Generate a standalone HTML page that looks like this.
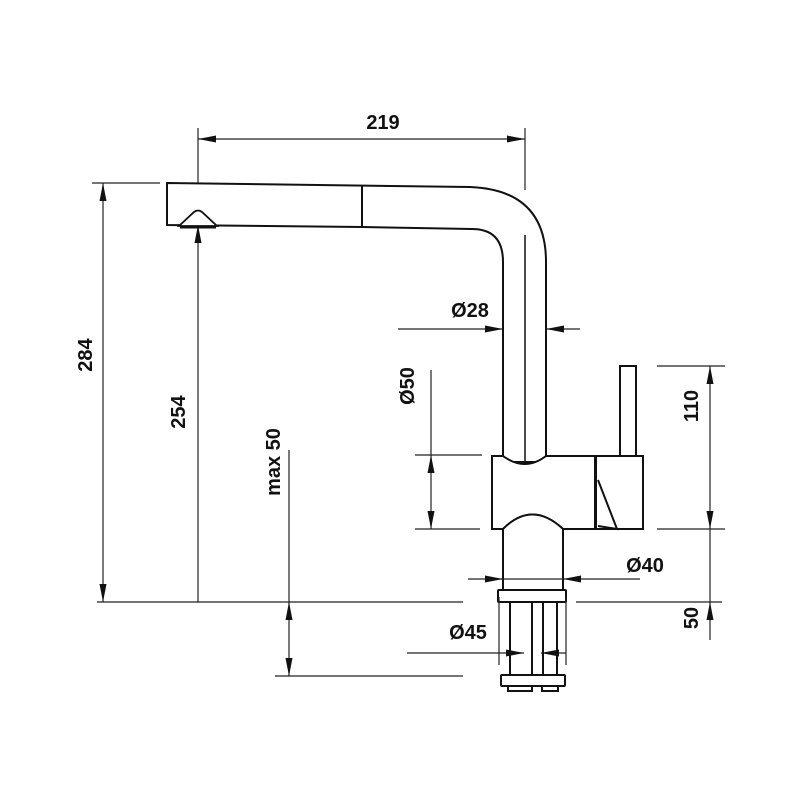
<!DOCTYPE html>
<html><head><style>body{margin:0;background:#fff}svg{display:block}text{font-family:"Liberation Sans",Arial,sans-serif;font-weight:bold;font-size:20px;fill:#111}</style></head>
<body>
<svg width="800" height="800" viewBox="0 0 800 800" xmlns="http://www.w3.org/2000/svg">
<defs>
<marker id="a" viewBox="0 0 18 7" refX="18" refY="3.5" markerWidth="18" markerHeight="7" markerUnits="userSpaceOnUse" orient="auto-start-reverse"><path d="M0,0 L18,3.5 L0,7z" fill="#111"/></marker>
</defs>
<g stroke="#222" stroke-width="1.2" fill="none">
<line x1="198" y1="128" x2="198" y2="185"/>
<line x1="525" y1="128" x2="525" y2="190"/>
<line x1="92" y1="183" x2="160" y2="183"/>
<line x1="97" y1="602" x2="463" y2="602"/>
<line x1="576" y1="602" x2="722" y2="602"/>
<line x1="275" y1="676" x2="463" y2="676"/>
<line x1="415" y1="455" x2="482" y2="455"/>
<line x1="415" y1="529" x2="480" y2="529"/>
<line x1="657" y1="366" x2="725" y2="366"/>
<line x1="657" y1="529" x2="725" y2="529"/>
<line x1="198" y1="139" x2="525" y2="139" marker-start="url(#a)" marker-end="url(#a)"/>
<line x1="103" y1="183" x2="103" y2="602" marker-start="url(#a)" marker-end="url(#a)"/>
<line x1="198" y1="602" x2="198" y2="225" marker-end="url(#a)"/>
<line x1="289" y1="450" x2="289" y2="602"/>
<line x1="289" y1="630" x2="289" y2="602" marker-end="url(#a)"/>
<line x1="289" y1="630" x2="289" y2="676" marker-end="url(#a)"/>
<line x1="398" y1="329" x2="503" y2="329" marker-end="url(#a)"/>
<line x1="580" y1="329" x2="546" y2="329" marker-end="url(#a)"/>
<line x1="431" y1="370" x2="431" y2="455"/>
<line x1="431" y1="490" x2="431" y2="455" marker-end="url(#a)"/>
<line x1="431" y1="490" x2="431" y2="529" marker-end="url(#a)"/>
<line x1="710" y1="366" x2="710" y2="529" marker-start="url(#a)" marker-end="url(#a)"/>
<line x1="710" y1="640" x2="710" y2="602" marker-end="url(#a)"/>
<line x1="710" y1="529" x2="710" y2="602"/>
<line x1="468" y1="579" x2="503" y2="579" marker-end="url(#a)"/>
<line x1="640" y1="579" x2="563" y2="579" marker-end="url(#a)"/>
</g>
<g stroke="#111" stroke-width="2" fill="#fff">
<path d="M167,183 L470,187 Q546,190 546,262 L546,462 L503,462 L503,262 Q503,229 472,229 L362,227 L167,225 Z"/>
<line x1="362" y1="185" x2="362" y2="227"/>
<line x1="525" y1="235" x2="525" y2="470" stroke-width="1.5"/>
<path d="M179,226 L194,212 Q198,209 202,212 L217,226 Z" stroke-width="1.8"/>
<line x1="180" y1="227" x2="216" y2="227" stroke-width="3"/>
<rect x="620" y="366" width="16" height="92"/>
<path d="M492,456 L503,456 Q525,472 546,456 L595,456 L595,529 L563,529 Q532,500 503,529 L492,529 Z"/>
<rect x="596" y="456" width="47" height="73"/>
<path d="M598,480 L617,529 L598,526" fill="none"/>
<path d="M503,529 Q532,500 563,529 L563,590 L503,590 Z"/>
<rect x="498" y="590" width="68" height="12" rx="1"/>
<rect x="510" y="602" width="22" height="73"/>
<rect x="543" y="602" width="14" height="73"/>
<rect x="508" y="686" width="24" height="5"/>
<rect x="542" y="686" width="16" height="5"/>
<rect x="501" y="675" width="64" height="11" rx="1"/>
</g>
<g stroke="#222" stroke-width="1.2" fill="none">
<line x1="503" y1="579" x2="563" y2="579"/>
<line x1="499" y1="597" x2="499" y2="665"/>
<line x1="566" y1="597" x2="566" y2="665"/>
<line x1="407" y1="653" x2="524" y2="653" marker-end="url(#a)"/>
<line x1="566" y1="653" x2="541" y2="653" marker-end="url(#a)"/>
</g>
<text x="383" y="129" text-anchor="middle">219</text>
<text x="470" y="317" text-anchor="middle">Ø28</text>
<text x="645" y="572" text-anchor="middle">Ø40</text>
<text x="468" y="639" text-anchor="middle">Ø45</text>
<text transform="translate(92,355) rotate(-90)" text-anchor="middle">284</text>
<text transform="translate(185,412) rotate(-90)" text-anchor="middle">254</text>
<text transform="translate(280,462) rotate(-90)" text-anchor="middle">max 50</text>
<text transform="translate(414,386) rotate(-90)" text-anchor="middle">Ø50</text>
<text transform="translate(698,406) rotate(-90)" text-anchor="middle">110</text>
<text transform="translate(698,618) rotate(-90)" text-anchor="middle">50</text>
</svg>
</body></html>
